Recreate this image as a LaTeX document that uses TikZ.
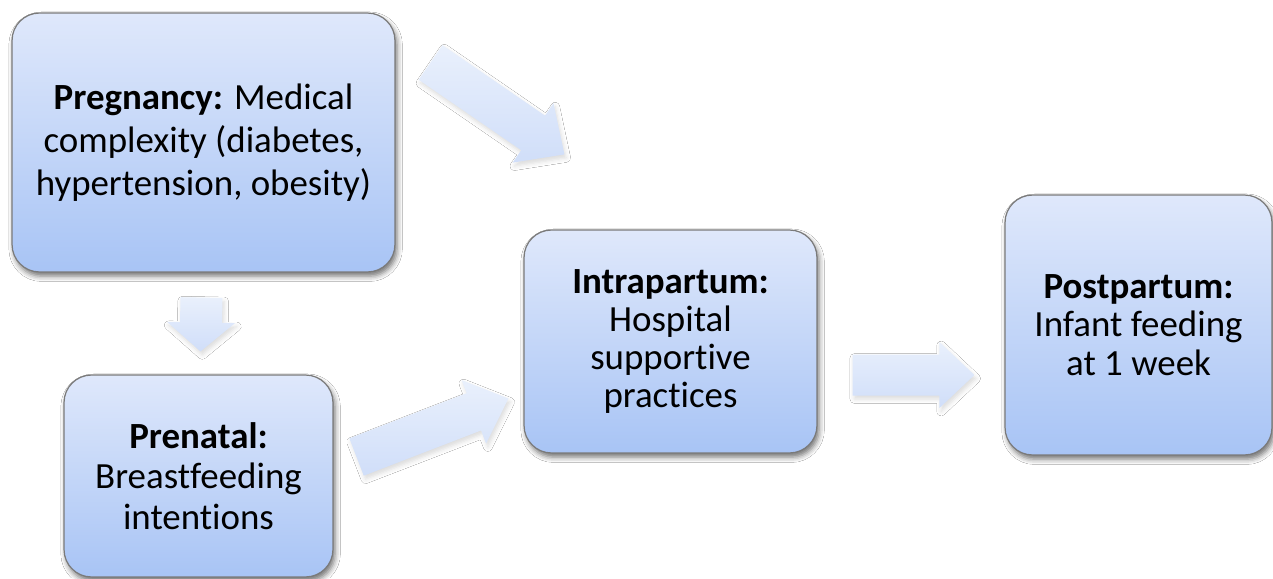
\documentclass[tikz,border=0pt]{standalone}
\usepackage{fontspec}
\setmainfont{Carlito}[Ligatures={NoCommon,NoContextual},RawFeature={-liga;-clig;-dlig;-calt}]
\usetikzlibrary{calc,shadows.blur}
\definecolor{boxtop}{HTML}{DFE8FB}
\definecolor{boxbot}{HTML}{A8C4F5}
\definecolor{boxline}{HTML}{7A7A7A}
\definecolor{arrtop}{HTML}{E9F0FC}
\definecolor{arrbot}{HTML}{D0DEF9}
\tikzset{
  stagebox/.style={rectangle, rounded corners=0.55cm, draw=boxline, line width=0.7pt,
    top color=boxtop, bottom color=boxbot, align=center, inner sep=0pt,
    font=\fontsize{21}{23.5}\selectfont,
    blur shadow={shadow xshift=1.2pt, shadow yshift=-2.4pt, shadow blur radius=3pt, shadow opacity=55}},
  blockarrow/.style={top color=arrtop, bottom color=arrbot, draw=none,
    blur shadow={shadow xshift=1pt, shadow yshift=-2pt, shadow blur radius=2.5pt, shadow opacity=14}}
}
% #1 tail, #2 tip, #3 shaft half width, #4 head half width, #5 head length
\newcommand\myblockarrow[5]{%
  \path[blockarrow]
    ($(#1)!#3!90:(#2)$) --
    ($($(#2)!#5!(#1)$)!#3!-90:(#1)$) --
    ($($(#2)!#5!(#1)$)!#4!-90:(#1)$) --
    (#2) --
    ($($(#2)!#5!(#1)$)!#4!90:(#1)$) --
    ($($(#2)!#5!(#1)$)!#3!90:(#1)$) --
    ($(#1)!#3!-90:(#2)$) -- cycle;%
}
\begin{document}
\begin{tikzpicture}[x=0.02cm,y=-0.02cm]
\useasboundingbox (0,0) rectangle (1273,578);
\fill[white] (0,0) rectangle (1273,578);

\node[stagebox, minimum width=7.66cm, minimum height=5.18cm, font=\fontsize{21}{24.5}\selectfont] (preg) at (203.5,142.5)
  {\textbf{Pregnancy:} Medical\\complexity (diabetes,\\hypertension, obesity)};
\node[stagebox, minimum width=5.38cm, minimum height=4.04cm, font=\fontsize{21}{23}\selectfont] (pren) at (198.5,476)
  {\textbf{Prenatal:}\\Breastfeeding\\intentions};
\node[stagebox, minimum width=5.86cm, minimum height=4.46cm, font=\fontsize{21}{21.8}\selectfont] (intra) at (670.5,341.5)
  {\textbf{Intrapartum:}\\Hospital\\supportive\\practices};
\node[stagebox, minimum width=5.34cm, minimum height=5.2cm, font=\fontsize{21}{22}\selectfont] (post) at (1138.5,325)
  {\textbf{Postpartum:}\\Infant feeding\\at 1 week};

% arrow anchor coordinates, placed relative to the boxes
\coordinate (a1t) at ($(preg.north east)+(35,50)$);
\coordinate (a1h) at ($(intra.north west)+(41,-75)$);
\coordinate (a2t) at ($(preg.south)+(-2,25)$);
\coordinate (a2h) at ($(pren.north)+(2,-23)$);
\coordinate (a3t) at ($(pren.east)+(23,-19)$);
\coordinate (a3h) at ($(intra.west)+(-15,57)$);
\coordinate (a4t) at ($(intra.east)+(35,33.5)$);
\coordinate (a4h) at ($(post.west)+(-30,50)$);

\myblockarrow{a1t}{a1h}{0.42cm}{0.72cm}{0.76cm}
\myblockarrow{a2t}{a2h}{0.42cm}{0.68cm}{0.58cm}
\myblockarrow{a3t}{a3h}{0.40cm}{0.68cm}{0.74cm}
\myblockarrow{a4t}{a4h}{0.41cm}{0.66cm}{0.70cm}
\end{tikzpicture}
\end{document}
